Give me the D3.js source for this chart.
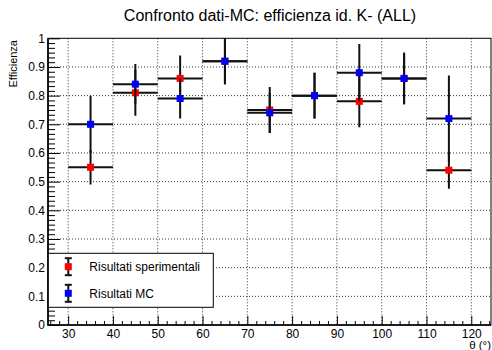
<!DOCTYPE html>
<html lang="it">
<head>
  <meta charset="UTF-8">
  <title>Confronto dati-MC</title>
  <style>
    body { margin: 0; background: #fff; }
    svg { display: block; font-family: "Liberation Sans", Arial, Helvetica, sans-serif; }
    .grid line { stroke: #333; stroke-width: 1; stroke-dasharray: 1,2; }
    .axis path, .axis line { stroke: #000; }
  </style>
</head>
<body>
<div id="chart"></div>

<script src="https://cdn.jsdelivr.net/npm/d3@7"></script>
<script>
  // bins in theta (deg)
  const binCenters = [35, 45, 55, 65, 75, 85, 95, 105, 115];
  const binHalfWidths = [5, 5, 5, 5, 5, 5, 5, 5, 5];

  const expValues = [0.55, 0.81, 0.86, 0.92, 0.75, 0.80, 0.78, 0.86, 0.54];
  const expErrors = [0.06, 0.08, 0.08, 0.08, 0.08, 0.08, 0.09, 0.09, 0.065];

  const mcValues = [0.70, 0.84, 0.79, 0.92, 0.74, 0.80, 0.88, 0.86, 0.72];
  const mcErrors = [0.10, 0.07, 0.07, 0.08, 0.07, 0.08, 0.10, 0.09, 0.15];

  const xTicks = [30, 40, 50, 60, 70, 80, 90, 100, 110, 120];
  const xMinorTicks = [26, 28, 32, 34, 36, 38, 42, 44, 46, 48, 52, 54, 56, 58, 62, 64, 66, 68,
    72, 74, 76, 78, 82, 84, 86, 88, 92, 94, 96, 98, 102, 104, 106, 108, 112, 114, 116, 118, 122, 124];
  const yTicks = [0, 0.1, 0.2, 0.3, 0.4, 0.5, 0.6, 0.7, 0.8, 0.9, 1];

  const series = [
    { name: "Risultati sperimentali", color: "#ff0000", values: expValues, errors: expErrors },
    { name: "Risultati MC", color: "#0000ff", values: mcValues, errors: mcErrors }
  ];

  const width = 492, height = 350;
  const frame = { left: 48, right: 491, top: 38.3, bottom: 325 };

  const svg = d3.select("#chart").append("svg")
    .attr("width", width)
    .attr("height", height);

  const x = d3.scaleLinear().domain([25.5, 124.4]).range([frame.left, frame.right]);
  const y = d3.scaleLinear().domain([0, 1]).range([frame.bottom, frame.top]);

  // minor ticks: every 1/6 of a major step on y
  const yMinorTicks = d3.range(0, 60).map(i => i / 60).filter(v => Math.round(v * 60) % 6 !== 0);

  // grid
  svg.append("g").attr("class", "grid")
    .selectAll("line").data(xTicks).enter().append("line")
    .attr("x1", d => x(d)).attr("x2", d => x(d))
    .attr("y1", frame.top).attr("y2", frame.bottom);
  svg.append("g").attr("class", "grid")
    .selectAll("line").data(yTicks.slice(1, -1)).enter().append("line")
    .attr("x1", frame.left).attr("x2", frame.right)
    .attr("y1", d => y(d)).attr("y2", d => y(d));

  // axes
  svg.append("g").attr("class", "axis")
    .attr("transform", "translate(0," + frame.bottom + ")")
    .call(d3.axisBottom(x).tickValues(xMinorTicks).tickSize(-4).tickFormat(""))
    .call(g => g.select(".domain").remove());
  svg.append("g").attr("class", "axis")
    .attr("transform", "translate(0," + frame.bottom + ")")
    .call(d3.axisBottom(x).tickValues(xTicks).tickSizeInner(-9).tickSizeOuter(0).tickPadding(4))
    .call(g => g.select(".domain").remove())
    .call(g => g.selectAll("text").attr("font-size", 12).attr("font-family", null).attr("fill", "#000"));

  svg.append("g").attr("class", "axis")
    .attr("transform", "translate(" + frame.left + ",0)")
    .call(d3.axisLeft(y).tickValues(yMinorTicks).tickSize(-7).tickFormat(""))
    .call(g => g.select(".domain").remove());
  svg.append("g").attr("class", "axis")
    .attr("transform", "translate(" + frame.left + ",0)")
    .call(d3.axisLeft(y).tickValues(yTicks).tickSizeInner(-12).tickSizeOuter(0).tickPadding(3)
      .tickFormat(d => d3.format("~g")(d)))
    .call(g => g.select(".domain").remove())
    .call(g => g.selectAll("text").attr("font-size", 12).attr("font-family", null).attr("fill", "#000"));

  // frame
  svg.append("rect")
    .attr("x", frame.left).attr("y", frame.top)
    .attr("width", frame.right - frame.left).attr("height", frame.bottom - frame.top)
    .attr("fill", "none").attr("stroke", "#000").attr("stroke-width", 1);
  svg.append("path")
    .attr("d", "M" + frame.left + "," + frame.top + "V" + frame.bottom + "H" + frame.right)
    .attr("fill", "none").attr("stroke", "#000").attr("stroke-width", 1.6);

  svg.append("clipPath").attr("id", "frame-clip")
    .append("rect")
    .attr("x", frame.left).attr("y", frame.top)
    .attr("width", frame.right - frame.left).attr("height", frame.bottom - frame.top);

  const plot = svg.append("g").attr("clip-path", "url(#frame-clip)");

  series.forEach(s => {
    const pts = binCenters.map((c, i) => ({ x: c, dx: binHalfWidths[i], v: s.values[i], e: s.errors[i] }));
    const g = plot.append("g");
    g.selectAll(".xerr").data(pts).enter().append("line")
      .attr("x1", d => x(d.x - d.dx)).attr("x2", d => x(d.x + d.dx))
      .attr("y1", d => y(d.v)).attr("y2", d => y(d.v))
      .attr("stroke", "#111").attr("stroke-width", 2);
    g.selectAll(".yerr").data(pts).enter().append("line")
      .attr("x1", d => x(d.x)).attr("x2", d => x(d.x))
      .attr("y1", d => y(d.v - d.e)).attr("y2", d => y(d.v + d.e))
      .attr("stroke", "#111").attr("stroke-width", 2);
    g.selectAll(".marker").data(pts).enter().append("rect")
      .attr("x", d => x(d.x) - 3.5).attr("y", d => y(d.v) - 3.5)
      .attr("width", 7).attr("height", 7)
      .attr("fill", s.color);
  });

  // legend
  const legend = svg.append("g");
  legend.append("rect")
    .attr("x", 48.3).attr("y", 253.3).attr("width", 165).attr("height", 54)
    .attr("fill", "#fff").attr("stroke", "#000").attr("stroke-width", 1);
  series.forEach((s, i) => {
    const cy = 266.7 + i * 26.6, cx = 68.3;
    const e = legend.append("g");
    e.append("line").attr("x1", cx).attr("x2", cx).attr("y1", cy - 8.5).attr("y2", cy + 8.5)
      .attr("stroke", "#111").attr("stroke-width", 2);
    [cy - 8.5, cy + 8.5].forEach(yy => {
      e.append("line").attr("x1", cx - 3.5).attr("x2", cx + 3.5).attr("y1", yy).attr("y2", yy)
        .attr("stroke", "#111").attr("stroke-width", 2);
    });
    e.append("rect").attr("x", cx - 3.5).attr("y", cy - 3.5).attr("width", 7).attr("height", 7)
      .attr("fill", s.color);
    e.append("text").attr("x", 89.3).attr("y", cy + 4.3)
      .attr("font-size", 12).text(s.name);
  });

  // titles
  svg.append("text")
    .attr("x", 270).attr("y", 20.7)
    .attr("text-anchor", "middle").attr("font-size", 16)
    .text("Confronto dati-MC: efficienza id. K- (ALL)");

  svg.append("text")
    .attr("transform", "translate(17,40) rotate(-90)")
    .attr("text-anchor", "end").attr("font-size", 11)
    .text("Efficienza");

  svg.append("text")
    .attr("x", 491).attr("y", 349)
    .attr("text-anchor", "end").attr("font-size", 11.5)
    .text("θ (°)");
</script>
</body>
</html>
